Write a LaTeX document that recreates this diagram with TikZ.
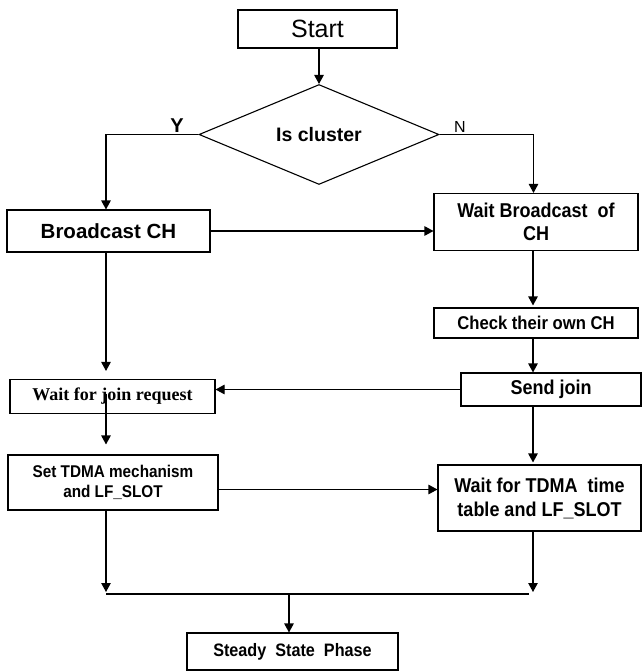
\documentclass[tikz,border=0pt]{standalone}
\usepackage{fontspec}
\setmainfont{Liberation Sans}
\newfontfamily\narrowsf[FakeStretch=0.9]{Liberation Sans}
\newfontfamily\serifbf{Liberation Serif}
\usetikzlibrary{arrows.meta,shapes.geometric,calc}

\begin{document}
\begin{tikzpicture}[x=1pt,y=-1pt,
  box/.style={draw, line width=1.1pt, rectangle, inner sep=0pt, align=center},
  arr/.style={-{Triangle[length=9pt,width=9.5pt]}, line width=1.1pt},
  ln/.style={line width=1.1pt}]
\useasboundingbox[fill=white] (0,0) rectangle (643,672);

% process boxes
\node[box, minimum width=159pt, minimum height=38pt,
      font=\fontsize{25}{28}\selectfont] (start) at (317.5,29) {Start};
\node[draw, diamond, line width=1.1pt, minimum width=240pt, minimum height=65pt,
      inner sep=0pt, font=\bfseries\fontsize{19.5}{22}\selectfont] (dia) at (319,134.5) {Is cluster};
\node[box, minimum width=203pt, minimum height=42pt,
      font=\bfseries\fontsize{20.5}{22}\selectfont] (bcast) at (108.5,231) {Broadcast CH};
\node[box, minimum width=204pt, minimum height=57pt,
      font=\narrowsf\bfseries\fontsize{20}{23}\selectfont] (waitb) at (536,222) {Wait Broadcast\ \ of\\CH};
\node[box, minimum width=204pt, minimum height=30pt,
      font=\narrowsf\bfseries\fontsize{18.5}{20}\selectfont] (check) at (536,323) {Check their own CH};
\node[box, minimum width=180pt, minimum height=33pt,
      font=\narrowsf\bfseries\fontsize{20}{22}\selectfont] (send) at (551,389.5) {Send join};
\node[box, minimum width=205pt, minimum height=34pt,
      font=\serifbf\bfseries\fontsize{18}{20}\selectfont] (wjoin) at (112.5,396.5) {Wait for join request};
\node[box, minimum width=210pt, minimum height=55pt,
      font=\narrowsf\bfseries\fontsize{17}{19.5}\selectfont] (settdma) at (113,482.5) {Set TDMA mechanism\\and LF\_SLOT};
\node[box, minimum width=203pt, minimum height=66pt,
      font=\narrowsf\bfseries\fontsize{20}{24}\selectfont] (waittdma) at (539.5,498) {Wait for TDMA\ \ time\\table and LF\_SLOT};
\node[box, minimum width=211pt, minimum height=37pt,
      font=\narrowsf\bfseries\fontsize{18}{20}\selectfont] (steady) at (292.5,651.5) {Steady\ \ State\ \ Phase};

% branch labels
\node[font=\bfseries\fontsize{20}{22}\selectfont] (ylab) at (177,126) {Y};
\node[font=\fontsize{16}{18}\selectfont] (nlab) at (460,127) {N};

% connectors
\draw[arr] (start.south -| dia.north) -- (dia.north);
\draw[arr] (dia.west) -| ([xshift=-2.5pt]bcast.north);
\draw[arr] (dia.east) -| ([xshift=-2.5pt]waitb.north);
\draw[arr] (bcast.east) -- (bcast.east -| waitb.west);
\draw[arr, shorten >=2pt] ([xshift=-3pt]waitb.south) -- ([xshift=-3pt]check.north);
\draw[arr] ([xshift=-3pt]check.south) -- ([xshift=-3pt]check.south |- send.north);
\draw[arr] (send.west) -- (send.west -| wjoin.east);
\draw[arr, shorten >=8pt] ([xshift=-2.5pt]bcast.south) -- ([xshift=-2.5pt]bcast.south |- wjoin.north);
\draw[arr, shorten >=10pt] ([xshift=-6.5pt,yshift=3pt]wjoin.center)
      -- ([xshift=-6.5pt]wjoin.center |- settdma.north);
\draw[arr, shorten >=2pt] ([xshift=-18pt]send.south) -- ([xshift=-18pt]send.south |- waittdma.north);
\draw[arr] ([yshift=-7pt]settdma.east) -- ([yshift=-7pt]settdma.east -| waittdma.west);

% merge into the steady state phase
\coordinate (mL) at (106,594);
\coordinate (mR) at (529,594);
\coordinate (mM) at (289,594);
\draw[arr, shorten >=2pt] (settdma.south -| mL) -- (mL);
\draw[arr, shorten >=2pt] ([xshift=-6.5pt]waittdma.south) -- ([xshift=-6.5pt]waittdma.south |- mR);
\draw[ln] (mL) -- (mR);
\draw[arr] (mM) -- (mM |- steady.north);
\end{tikzpicture}
\end{document}
